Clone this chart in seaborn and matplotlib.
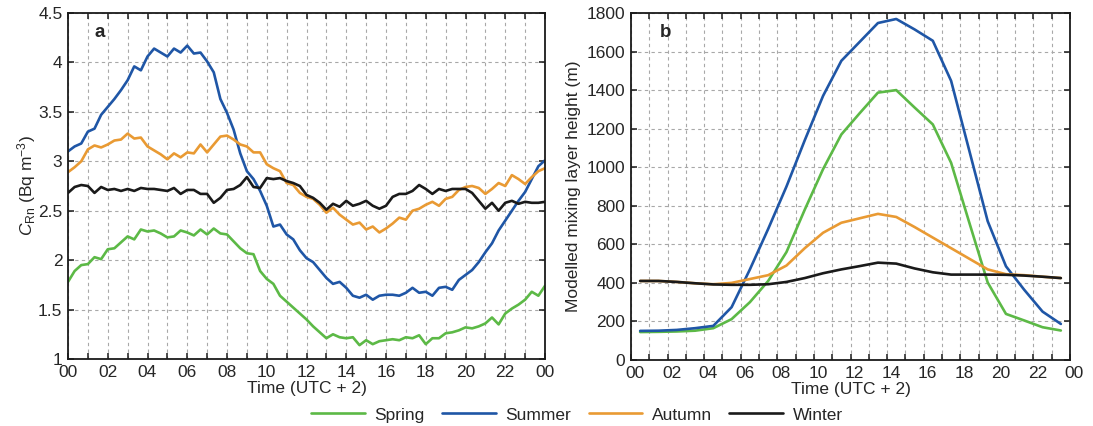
import numpy as np
import pandas as pd
import matplotlib
matplotlib.use("Agg")
import matplotlib.pyplot as plt
from matplotlib.ticker import MultipleLocator, FuncFormatter
from matplotlib.lines import Line2D
from matplotlib.transforms import ScaledTranslation
import seaborn as sns

# ---------------- data ----------------
seasons = ["Spring", "Summer", "Autumn", "Winter"]
colors = ["#5cb946", "#1f56a6", "#e99a33", "#1a1a1a"]

# panel a: radon concentration, 20-min steps from 00 to 24 h
hours_a = [i / 3 for i in range(73)]
radon_spring = [1.78, 1.89, 1.95, 1.96, 2.03, 2.01, 2.11, 2.12, 2.18, 2.24, 2.21, 2.31,
                2.29, 2.30, 2.27, 2.23, 2.24, 2.30, 2.28, 2.25, 2.31, 2.26, 2.32, 2.27,
                2.26, 2.19, 2.12, 2.07, 2.06, 1.89, 1.81, 1.76, 1.64, 1.58, 1.52, 1.46,
                1.40, 1.33, 1.27, 1.21, 1.25, 1.22, 1.21, 1.22, 1.14, 1.19, 1.15, 1.18,
                1.19, 1.20, 1.19, 1.22, 1.21, 1.24, 1.15, 1.21, 1.21, 1.26, 1.27, 1.29,
                1.32, 1.31, 1.33, 1.36, 1.42, 1.35, 1.46, 1.51, 1.55, 1.60, 1.68, 1.64,
                1.74]
radon_summer = [3.10, 3.15, 3.18, 3.30, 3.33, 3.47, 3.55, 3.63, 3.72, 3.82, 3.96, 3.92,
                4.06, 4.14, 4.10, 4.06, 4.14, 4.10, 4.17, 4.09, 4.10, 4.01, 3.90, 3.63,
                3.49, 3.32, 3.08, 2.90, 2.82, 2.70, 2.55, 2.34, 2.36, 2.26, 2.21, 2.10,
                2.02, 1.98, 1.90, 1.82, 1.76, 1.78, 1.72, 1.64, 1.62, 1.65, 1.60, 1.64,
                1.65, 1.65, 1.64, 1.67, 1.72, 1.67, 1.68, 1.64, 1.72, 1.73, 1.70, 1.80,
                1.85, 1.90, 1.98, 2.08, 2.17, 2.30, 2.40, 2.50, 2.60, 2.69, 2.82, 2.95,
                3.01]
radon_autumn = [2.89, 2.94, 3.00, 3.12, 3.16, 3.14, 3.17, 3.21, 3.22, 3.28, 3.23, 3.24,
                3.15, 3.11, 3.07, 3.02, 3.08, 3.04, 3.09, 3.08, 3.17, 3.09, 3.17, 3.25,
                3.26, 3.22, 3.17, 3.15, 3.09, 3.09, 2.97, 2.93, 2.90, 2.78, 2.76, 2.68,
                2.64, 2.62, 2.56, 2.48, 2.53, 2.46, 2.41, 2.36, 2.38, 2.31, 2.34, 2.28,
                2.32, 2.37, 2.43, 2.41, 2.50, 2.52, 2.56, 2.59, 2.55, 2.62, 2.64, 2.71,
                2.74, 2.75, 2.73, 2.67, 2.72, 2.78, 2.75, 2.86, 2.82, 2.77, 2.84, 2.90,
                2.93]
radon_winter = [2.68, 2.74, 2.76, 2.75, 2.68, 2.74, 2.71, 2.72, 2.70, 2.72, 2.70, 2.73,
                2.72, 2.72, 2.71, 2.70, 2.73, 2.67, 2.71, 2.71, 2.67, 2.67, 2.58, 2.63,
                2.71, 2.72, 2.76, 2.84, 2.74, 2.73, 2.83, 2.82, 2.83, 2.80, 2.78, 2.75,
                2.66, 2.63, 2.58, 2.51, 2.57, 2.54, 2.60, 2.55, 2.57, 2.60, 2.55, 2.52,
                2.55, 2.64, 2.67, 2.67, 2.70, 2.76, 2.72, 2.67, 2.72, 2.70, 2.72, 2.72,
                2.72, 2.68, 2.60, 2.52, 2.58, 2.50, 2.58, 2.60, 2.57, 2.59, 2.58, 2.58,
                2.59]

# panel b: modelled mixing layer height, hourly at half hours
hours_b = [h + 0.5 for h in range(24)]
mlh_spring = [145, 146, 148, 152, 165, 212, 300, 410, 560, 780, 990, 1170,
              1280, 1387, 1400, 1310, 1222, 1023, 711, 402, 239, 205, 170, 153]
mlh_summer = [151, 152, 156, 165, 177, 274, 470, 680, 900, 1140, 1370, 1552,
              1650, 1748, 1769, 1715, 1656, 1448, 1084, 720, 486, 364, 251, 187]
mlh_autumn = [410, 410, 405, 398, 393, 400, 420, 440, 490, 580, 660, 712,
              735, 758, 742, 690, 635, 580, 525, 470, 445, 440, 432, 425]
mlh_winter = [410, 410, 405, 398, 392, 390, 390, 393, 405, 425, 450, 470,
              487, 505, 500, 475, 455, 443, 443, 443, 442, 438, 432, 425]

hour_ticks = list(range(0, 25, 2))
hour_labels = ["00", "02", "04", "06", "08", "10", "12", "14", "16", "18", "20", "22", "00"]

# ---------------- style ----------------
sns.set_theme(style="ticks")
plt.rcParams["font.family"] = ["Liberation Sans", "DejaVu Sans"]
plt.rcParams["mathtext.fontset"] = "custom"
plt.rcParams["mathtext.rm"] = "Liberation Sans"
plt.rcParams["mathtext.it"] = "Liberation Sans:italic"
plt.rcParams["mathtext.bf"] = "Liberation Sans:bold"

FS = 12.5
fig = plt.figure(figsize=(10.93, 4.26), dpi=100)
ax1 = fig.add_axes([68 / 1093, 67 / 426, 477 / 1093, 346 / 426])
ax2 = fig.add_axes([631 / 1093, 66 / 426, 439 / 1093, 347 / 426])

df_a = pd.DataFrame({
    "hour": hours_a * 4,
    "value": radon_spring + radon_summer + radon_autumn + radon_winter,
    "season": sum([[s] * len(hours_a) for s in seasons], []),
})
df_b = pd.DataFrame({
    "hour": hours_b * 4,
    "value": mlh_spring + mlh_summer + mlh_autumn + mlh_winter,
    "season": sum([[s] * len(hours_b) for s in seasons], []),
})
pal = dict(zip(seasons, colors))

sns.lineplot(data=df_a, x="hour", y="value", hue="season", hue_order=seasons,
             palette=pal, ax=ax1, legend=False, linewidth=1.9, estimator=None)
sns.lineplot(data=df_b, x="hour", y="value", hue="season", hue_order=seasons,
             palette=pal, ax=ax2, legend=False, linewidth=1.9, estimator=None)

for ax in (ax1, ax2):
    ax.set_xlim(0, 24)
    ax.set_xticks(hour_ticks)
    ax.set_xticklabels(hour_labels)
    ax.xaxis.set_minor_locator(MultipleLocator(1))
    ax.grid(True, which="both", axis="x", linestyle=(0, (3, 3)), color="#a8a8a8", linewidth=0.8)
    ax.grid(True, which="major", axis="y", linestyle=(0, (3, 3)), color="#a8a8a8", linewidth=0.8)
    ax.tick_params(which="both", direction="in", top=True, right=True,
                   length=4.5, width=1.1, color="#1a1a1a", labelsize=FS, pad=4)
    for sp in ax.spines.values():
        sp.set_linewidth(1.3)
        sp.set_color("#1a1a1a")
    ax.set_xlabel("Time (UTC + 2)", fontsize=FS, labelpad=1)
    ax.set_axisbelow(True)

ax1.set_ylim(1, 4.5)
ax1.yaxis.set_major_locator(MultipleLocator(0.5))
ax1.yaxis.set_major_formatter(FuncFormatter(lambda v, p: f"{v:g}"))
ax1.set_ylabel(r"$C_{\mathrm{Rn}}$ (Bq m$^{-3}$)", fontsize=FS, labelpad=0)

ax2.set_ylim(0, 1800)
ax2.yaxis.set_major_locator(MultipleLocator(200))
ax2.set_ylabel("Modelled mixing layer height (m)", fontsize=FS, labelpad=4)
for lab in ax2.get_xticklabels():
    lab.set_transform(lab.get_transform() + ScaledTranslation(0.04, 0, fig.dpi_scale_trans))

ax1.text(0.055, 0.945, "a", transform=ax1.transAxes, fontsize=FS + 1, fontweight="bold",
         va="center", ha="left")
ax2.text(0.065, 0.945, "b", transform=ax2.transAxes, fontsize=FS + 1, fontweight="bold",
         va="center", ha="left")

handles = [Line2D([0], [0], color=c, lw=1.9) for c in colors]
fig.legend(handles, seasons, loc="center", bbox_to_anchor=(577 / 1093, 1 - 415 / 426),
           ncol=4, frameon=False, fontsize=FS, handlelength=3.1, handletextpad=0.55,
           columnspacing=1.0, borderaxespad=0, borderpad=0)

fig.savefig("out.png", dpi=100)
